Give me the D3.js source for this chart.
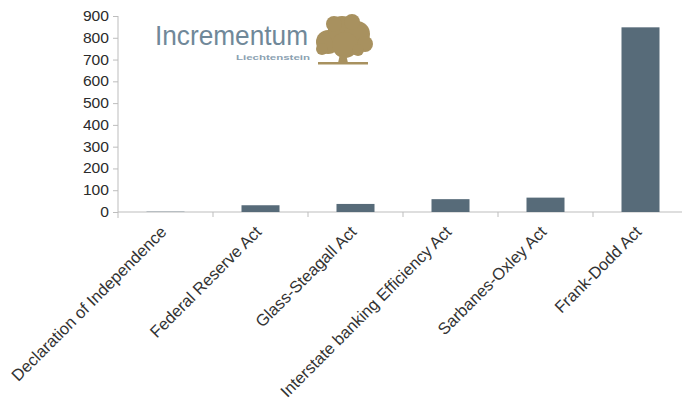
<!DOCTYPE html>
<html>
<head>
<meta charset="utf-8">
<script src="https://cdn.jsdelivr.net/npm/d3@7"></script>
<style>
  body { margin: 0; background: #fff; }
  svg { display: block; }
  text { font-family: "Liberation Sans", Arial, sans-serif; }
</style>
</head>
<body>
<svg id="chart"></svg>
<script>
// data (number of pages of each act)
const acts = ["Declaration of Independence", "Federal Reserve Act", "Glass-Steagall Act",
              "Interstate banking Efficiency Act", "Sarbanes-Oxley Act", "Frank-Dodd Act"];
const pages = [1.3, 31, 37, 59, 66, 848];
const yTicks = [0, 100, 200, 300, 400, 500, 600, 700, 800, 900];

const svgWidth = 682,
    svgHeight = 403,
    plotLeft = 118,
    plotRight = 688,
    plotTop = 16,
    plotBottom = 212;

const barColor = "#576b79";
const axisColor = "#bdbdbd";

const chart = d3.select('#chart')
    .attr("width", svgWidth)
    .attr("height", svgHeight);

var xScale = d3.scaleBand().domain(acts).range([plotLeft, plotRight]).padding(0);
var yScale = d3.scaleLinear().domain([0, 900]).range([plotBottom, plotTop]);

var data = acts.map(function(a, i){ return {act: a, value: pages[i]}; });

// y axis
var yAxis = d3.axisLeft(yScale).tickValues(yTicks).tickSize(5).tickPadding(4);
var gy = chart.append("g")
    .attr("transform", "translate(" + plotLeft + ",0)")
    .call(yAxis);
gy.select(".domain").attr("stroke", axisColor).attr("d", "M0," + plotTop + "V" + (plotBottom + 6));
gy.selectAll(".tick line").attr("stroke", axisColor);
gy.selectAll(".tick text")
    .attr("fill", "#2b2b2b")
    .style("font-size", "14px")
    .attr("textLength", function(d){ return String(d).length * 8.7; })
    .attr("lengthAdjust", "spacingAndGlyphs");

// x axis line + tick marks at band boundaries
chart.append("line")
    .attr("x1", plotLeft).attr("x2", svgWidth)
    .attr("y1", plotBottom).attr("y2", plotBottom)
    .attr("stroke", axisColor);

chart.selectAll(".xtick")
    .data(acts.slice(1))
    .enter().append("line")
    .attr("class", "xtick")
    .attr("x1", function(d){ return xScale(d); })
    .attr("x2", function(d){ return xScale(d); })
    .attr("y1", plotBottom).attr("y2", plotBottom + 5)
    .attr("stroke", axisColor);

// bars
var barW = xScale.bandwidth() * 0.4;
chart.selectAll(".bar")
    .data(data)
    .enter().append("rect")
    .attr("class", "bar")
    .attr("x", function(d){ return xScale(d.act) + (xScale.bandwidth() - barW) / 2; })
    .attr("width", barW)
    .attr("y", function(d){ return yScale(d.value); })
    .attr("height", function(d){ return plotBottom - yScale(d.value); })
    .attr("fill", barColor);

// rotated category labels
chart.selectAll(".xlabel")
    .data(acts)
    .enter().append("text")
    .attr("class", "xlabel")
    .attr("transform", function(d){
        var cx = xScale(d) + xScale.bandwidth() / 2 + 2;
        return "translate(" + cx + "," + (plotBottom + 21) + ") rotate(-45)";
    })
    .attr("text-anchor", "end")
    .attr("fill", "#333")
    .style("font-size", "16.5px")
    .text(function(d){ return d; });

// logo
var logo = chart.append("g");
logo.append("text")
    .attr("x", 155).attr("y", 45)
    .attr("fill", "#708899")
    .attr("textLength", 153)
    .attr("lengthAdjust", "spacingAndGlyphs")
    .style("font-size", "28px")
    .text("Incrementum");
logo.append("text")
    .attr("x", 236).attr("y", 60)
    .attr("fill", "#8ba1b1")
    .attr("textLength", 74)
    .attr("lengthAdjust", "spacingAndGlyphs")
    .style("font-size", "8px")
    .style("font-weight", "bold")
    .text("Liechtenstein");

// tree
var gold = "#a8915f";
var tree = logo.append("g");
[[328, 42, 12], [342, 30, 14], [357, 34, 13], [365, 44, 8], [322, 49, 6],
 [345, 45, 13], [334, 24, 8], [352, 22, 8], [358, 50, 6]].forEach(function(c){
    tree.append("circle").attr("cx", c[0]).attr("cy", c[1]).attr("r", c[2]).attr("fill", gold);
});
tree.append("path")
    .attr("d", "M340,54 L338,63 L348,63 L346,54 Z")
    .attr("fill", gold);
tree.append("rect")
    .attr("x", 318).attr("y", 62).attr("width", 50).attr("height", 2.5)
    .attr("fill", gold);
</script>
</body>
</html>
